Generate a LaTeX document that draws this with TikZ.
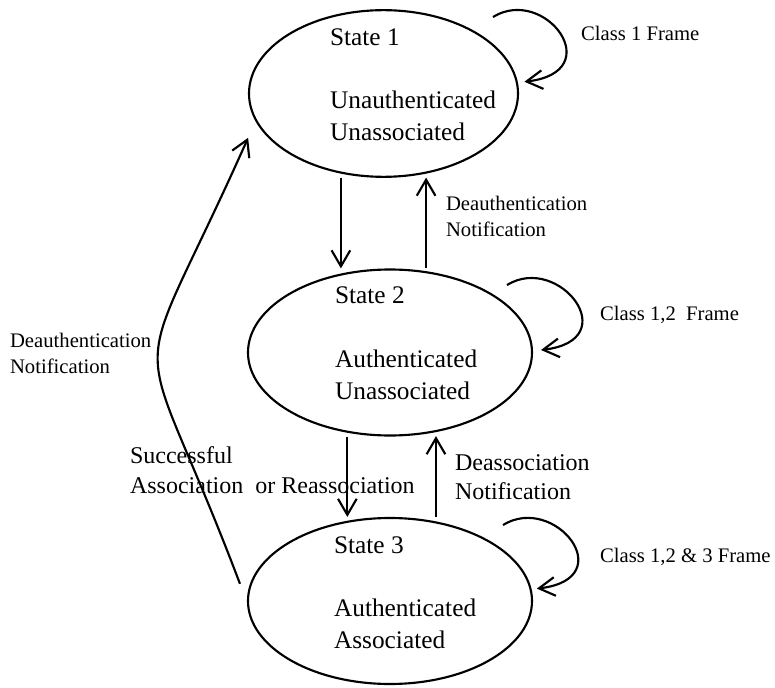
\documentclass[tikz,border=0pt]{standalone}
\usepackage{fontspec}
\setmainfont{Liberation Serif}
\usetikzlibrary{shapes.geometric,arrows.meta}

\tikzset{every picture/.style={line width=1.6pt}}
\tikzset{state/.style={draw, ellipse, inner sep=0pt, minimum width=213pt, minimum height=124.5pt},
  stxt/.style={anchor=west, inner sep=0pt, align=left, font=\fontsize{19}{24}\selectfont},
  lbl/.style={anchor=west, inner sep=0pt, align=left, font=\fontsize{15.5}{19.5}\selectfont},
  lblbig/.style={anchor=west, inner sep=0pt, align=left, font=\fontsize{18}{22}\selectfont},
  arr/.style={-{Straight Barb[length=12pt,width=14pt]}}}

\begin{document}
\begin{tikzpicture}[x=0.75pt,y=0.75pt,yscale=-1,xscale=1]
%set diagram left start at 0, and has height of 688
\useasboundingbox (0,0) rectangle (775,688);

%Shape: Ellipses
\node [state, minimum width=201.75pt, minimum height=125pt] (s1) at (383.5,93.5) {};
\node [state] (s2) at (390,352.5) {};
\node [state] (s3) at (390,601) {};

% Text Nodes in states
\node [stxt] (s1name) at (329,37) {State 1};
\node [stxt] (s1info) at (329,116) {Unauthenticated\\Unassociated};
\node [stxt] (s2name) at (334,295) {State 2};
\node [stxt] (s2info) at (334,375) {Authenticated\\Unassociated};
\node [stxt] (s3name) at (333,545) {State 3};
\node [stxt] (s3info) at (333,624) {Authenticated\\Associated};

%Straight Lines
\draw [arr, shorten <=3pt] (s1.242) -- (s1.242 |- s2.north);
\draw [arr, shorten >=3pt] (s1.298 |- s2.north) -- (s1.298);
\draw [arr, shorten <=3pt] (s2.242) -- (s2.242 |- s3.north);
\draw [arr, shorten >=3pt] (s2.300 |- s3.north) -- (s2.300);

%Curve Lines (self loops)
\coordinate (l1) at (493,17);
\coordinate (l2) at (507,285);
\coordinate (l3) at (503,525);
\draw [arr] (l1) .. controls +(52,-32) and +(85,-10) .. ([xshift=5pt]s1.5);
\draw [arr] (l2) .. controls +(52,-32) and +(85,-10) .. ([xshift=6pt]s2.1);
\draw [arr] (l3) .. controls +(52,-32) and +(85,-10) .. ([xshift=4pt]s3.5);

%Curve Lines
\draw [arr] ([xshift=-7.5pt]s3.173) .. controls +(-107,-283) and +(-123,276) .. ([xshift=-15pt]s1.201);

% Text Node
\node [lbl] (cls1) at (580,33) {Class 1 Frame};
% Text Node
\node [lbl] (cls2) at (599,315) {Class 1,2\ \ Frame};
% Text Node
\node [lbl] (cls3) at (599,557) {Class 1,2 \& 3 Frame};
% Text Node
\node [lbl] (deauth) at (445,216) {Deauthentication\\Notification};
% Text Node
\node [lblbig] (deassoc) at (454,477) {Deassociation\\Notification};
% Text Node
\node [lbl] (deauthall) at (9,353) {Deauthentication\\Notification};
% Text Node
\node [lblbig] (assoc) at (129,470) {Successful\\Association\ \ or Reassociation};

\end{tikzpicture}
\end{document}
